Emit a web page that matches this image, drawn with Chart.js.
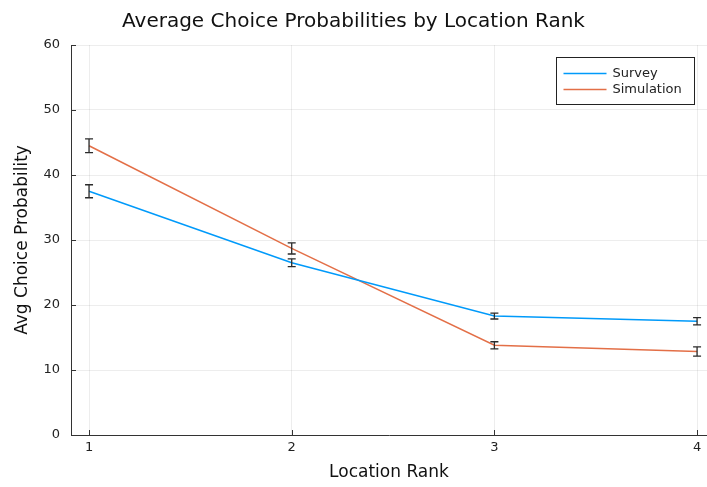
<!DOCTYPE html>
<html lang="en">
<head>
    <meta charset="UTF-8">
    <title>Average Choice Probabilities by Location Rank</title>
    <script src="https://cdn.jsdelivr.net/npm/chart.js"></script>
    <style>
        html, body {
            margin: 0;
            padding: 0;
            background: #fff;
        }
        #wrap {
            width: 707px;
            height: 487px;
        }
    </style>
</head>
<body>
    <div id="wrap"><canvas id="chart"></canvas></div>

    <script>
        // Data
        const ranks = [1, 2, 3, 4];
        const surveyMean = [37.5, 26.5, 18.3, 17.5];
        const surveyErr = [1.0, 0.6, 0.45, 0.55];
        const simMean = [44.5, 28.7, 13.8, 12.85];
        const simErr = [1.05, 0.85, 0.55, 0.7];
        const xTicks = [1, 2, 3, 4];
        const yTicks = [0, 10, 20, 30, 40, 50, 60];

        const FONT = "'DejaVu Sans', sans-serif";
        const axisColor = '#333';

        function points(means) {
            return ranks.map(function (r, i) { return { x: r, y: means[i] }; });
        }

        // error bars, drawn through the scales
        const errorBars = {
            id: 'errorBars',
            afterDatasetsDraw: function (chart) {
                const ctx = chart.ctx;
                const xs = chart.scales.x, ys = chart.scales.y;
                ctx.save();
                ctx.strokeStyle = '#2b2b2b';
                ctx.lineWidth = 1.3;
                chart.data.datasets.forEach(function (ds) {
                    ds.data.forEach(function (p, i) {
                        const px = xs.getPixelForValue(p.x);
                        const top = ys.getPixelForValue(p.y + ds.errors[i]);
                        const bot = ys.getPixelForValue(p.y - ds.errors[i]);
                        ctx.beginPath();
                        ctx.moveTo(px, top); ctx.lineTo(px, bot);
                        ctx.moveTo(px - 4, top); ctx.lineTo(px + 4, top);
                        ctx.moveTo(px - 4, bot); ctx.lineTo(px + 4, bot);
                        ctx.stroke();
                    });
                });
                ctx.restore();
            }
        };

        // inward tick marks and a boxed legend in the top right corner
        const frameAndLegend = {
            id: 'frameAndLegend',
            afterDraw: function (chart) {
                const ctx = chart.ctx;
                const a = chart.chartArea;
                const xs = chart.scales.x, ys = chart.scales.y;
                ctx.save();
                ctx.strokeStyle = axisColor;
                ctx.lineWidth = 1;
                xTicks.forEach(function (t) {
                    const px = Math.round(xs.getPixelForValue(t)) + 0.5;
                    ctx.beginPath();
                    ctx.moveTo(px, a.bottom);
                    ctx.lineTo(px, a.bottom - 5);
                    ctx.stroke();
                });
                yTicks.forEach(function (t) {
                    const py = Math.round(ys.getPixelForValue(t)) + 0.5;
                    ctx.beginPath();
                    ctx.moveTo(a.left, py);
                    ctx.lineTo(a.left + 5, py);
                    ctx.stroke();
                });

                // legend
                const bx = 556.5, by = 57.5, bw = 138, bh = 47;
                ctx.fillStyle = '#fff';
                ctx.fillRect(bx, by, bw, bh);
                ctx.strokeStyle = '#222';
                ctx.strokeRect(bx, by, bw, bh);
                ctx.font = '13px ' + FONT;
                ctx.textBaseline = 'middle';
                chart.data.datasets.forEach(function (ds, i) {
                    const y = by + 16 + i * 16;
                    ctx.strokeStyle = ds.borderColor;
                    ctx.lineWidth = 1.5;
                    ctx.beginPath();
                    ctx.moveTo(bx + 7, y);
                    ctx.lineTo(bx + 50, y);
                    ctx.stroke();
                    ctx.fillStyle = '#222';
                    ctx.fillText(ds.label, bx + 56, y);
                });
                ctx.restore();
            }
        };

        const ctx = document.getElementById('chart').getContext('2d');
        const chart = new Chart(ctx, {
            type: 'line',
            data: {
                datasets: [{
                    label: 'Survey',
                    data: points(surveyMean),
                    errors: surveyErr,
                    borderColor: '#009AFA',
                    borderWidth: 1.5,
                    pointRadius: 0,
                    fill: false,
                    tension: 0
                }, {
                    label: 'Simulation',
                    data: points(simMean),
                    errors: simErr,
                    borderColor: '#E36F47',
                    borderWidth: 1.5,
                    pointRadius: 0,
                    fill: false,
                    tension: 0
                }]
            },
            options: {
                responsive: true,
                maintainAspectRatio: false,
                animation: false,
                layout: { padding: { left: 0, right: 0, top: 0, bottom: 0 } },
                plugins: {
                    legend: { display: false },
                    tooltip: { enabled: false },
                    title: {
                        display: true,
                        text: 'Average Choice Probabilities by Location Rank',
                        color: '#111',
                        font: { family: FONT, size: 20, weight: 'normal' },
                        padding: { top: 10, bottom: 11 }
                    }
                },
                scales: {
                    x: {
                        type: 'linear',
                        min: 0.911,
                        max: 4.049,
                        afterBuildTicks: function (s) {
                            s.ticks = xTicks.map(function (v) { return { value: v }; });
                        },
                        afterFit: function (s) { s.height = 52; },
                        grid: { color: 'rgba(0,0,0,0.07)', drawTicks: false },
                        border: { color: axisColor, width: 1 },
                        ticks: {
                            color: '#222',
                            padding: 5,
                            font: { family: FONT, size: 13 }
                        },
                        title: {
                            display: true,
                            text: 'Location Rank',
                            color: '#111',
                            font: { family: FONT, size: 17 },
                            padding: { top: 4, bottom: 4 }
                        }
                    },
                    y: {
                        min: 0,
                        max: 60,
                        afterBuildTicks: function (s) {
                            s.ticks = yTicks.map(function (v) { return { value: v }; });
                        },
                        afterFit: function (s) { s.width = 71; },
                        grid: { color: 'rgba(0,0,0,0.07)', drawTicks: false },
                        border: { color: axisColor, width: 1 },
                        ticks: {
                            color: '#222',
                            padding: 11,
                            font: { family: FONT, size: 13 }
                        },
                        title: {
                            display: true,
                            text: 'Avg Choice Probability',
                            color: '#111',
                            font: { family: FONT, size: 17 },
                            padding: { top: 12, bottom: 6 }
                        }
                    }
                }
            },
            plugins: [errorBars, frameAndLegend]
        });
    </script>
</body>
</html>
